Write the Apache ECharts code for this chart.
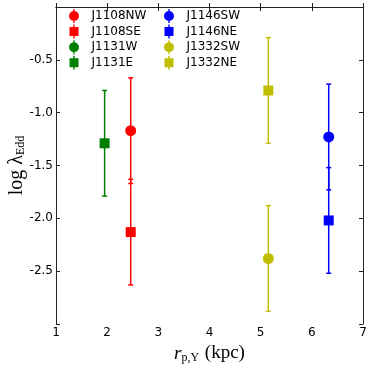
<!DOCTYPE html>
<html>
<head>
<meta charset="utf-8">
<script src="https://cdn.jsdelivr.net/npm/echarts@6/dist/echarts.min.js"></script>
<style>
html,body{margin:0;padding:0;background:#fff;}
#main{width:374px;height:374px;}
</style>
</head>
<body>
<div id="main"></div>
<script>
//source names (legend order)
let names = ['J1108NW','J1108SE','J1131W','J1131E','J1146SW','J1146NE','J1332SW','J1332NE']
//projected separation r_p,Y (kpc), null = not plotted
let xVals = [2.46, 2.46, null, 1.95, 6.33, 6.33, 5.15, 5.15]
//log lambda_Edd
let yVals = [-1.17, -2.13, null, -1.29, -1.23, -2.02, -2.38, -0.79]
//error (symmetric)
let yErr = [0.5, 0.5, 0.5, 0.5, 0.5, 0.5, 0.5, 0.5]
let colors = ['#ff0000','#ff0000','#008000','#008000','#0000ff','#0000ff','#bfbf00','#bfbf00']
let symbols = ['circle','rect','circle','rect','circle','rect','circle','rect']
//y tick labels
let yTicks = [-0.5, -1.0, -1.5, -2.0, -2.5]

let circleIcon = 'path://M5.3,0H6.7V14H5.3Z M1,7A5,5 0 1 1 11,7A5,5 0 1 1 1,7Z'
let rectIcon = 'path://M5.3,0H6.7V14H5.3Z M1.5,2.5H10.5V11.5H1.5Z'

let myChart = echarts.init(document.getElementById('main'))

//error bar data
let errData = []
names.forEach((n, i) => {
    if(xVals[i] !== null){
        errData.push([xVals[i], yVals[i] - yErr[i], yVals[i] + yErr[i], i])
    }
})

let series = [{
    type:'custom',
    silent:true,
    z:1,
    data:errData,
    renderItem(params, api){
        let x = api.value(0)
        let c = colors[api.value(3)]
        let top = api.coord([x, api.value(2)])
        let bot = api.coord([x, api.value(1)])
        let w = 2.5
        let st = {stroke:c, lineWidth:1.5}
        return {type:'group', children:[
            {type:'line', shape:{x1:top[0], y1:top[1], x2:bot[0], y2:bot[1]}, style:st},
            {type:'line', shape:{x1:top[0]-w, y1:top[1], x2:top[0]+w, y2:top[1]}, style:st},
            {type:'line', shape:{x1:bot[0]-w, y1:bot[1], x2:bot[0]+w, y2:bot[1]}, style:st}
        ]}
    }
}]
names.forEach((n, i) => {
    series.push({
        type:'scatter',
        name:n,
        z:2,
        symbol:symbols[i],
        symbolSize:symbols[i] === 'circle' ? 11 : 10,
        itemStyle:{color:colors[i], opacity:1},
        emphasis:{disabled:true},
        data: xVals[i] === null ? [] : [[xVals[i], yVals[i]]]
    })
})

function legendData(list){
    return list.map(n => {
        let i = names.indexOf(n)
        return {name:n, icon: symbols[i] === 'circle' ? circleIcon : rectIcon}
    })
}
let legendBase = {
    orient:'vertical',
    top:9,
    padding:0,
    itemWidth:25,
    itemHeight:14,
    itemGap:1.6,
    selectedMode:false,
    textStyle:{fontFamily:'DejaVu Sans', fontSize:12, color:'#000'}
}

let axisLine = {show:true, lineStyle:{color:'#222', width:1}}
let axisTick = {show:true, inside:true, length:4, lineStyle:{color:'#222'}}

let option = {
    animation:false,
    grid:{left:56, right:11, top:7, bottom:50, outerBoundsMode:'none', containLabel:false},
    legend:[
        Object.assign({left:69, data:legendData(names.slice(0,4))}, legendBase),
        Object.assign({left:164, data:legendData(names.slice(4))}, legendBase)
    ],
    xAxis:[{
        type:'value', min:1, max:7, interval:1,
        axisLine:axisLine, axisTick:axisTick, splitLine:{show:false},
        axisLabel:{margin:3, fontFamily:'DejaVu Sans', fontSize:12, color:'#000'},
        name:'{i|r}{sub|p,Y}{n| (kpc)}',
        nameLocation:'middle',
        nameGap:19,
        nameTextStyle:{
            rich:{
                i:{fontFamily:'Liberation Serif', fontStyle:'italic', fontSize:19, color:'#000'},
                sub:{fontFamily:'Liberation Serif', fontSize:12, color:'#000', padding:[9,1,0,0]},
                n:{fontFamily:'Liberation Serif', fontSize:19, color:'#000'}
            }
        }
    },{
        type:'value', min:1, max:7, interval:1, position:'top',
        axisLine:axisLine, axisTick:axisTick, splitLine:{show:false}, axisLabel:{show:false}
    }],
    yAxis:[{
        type:'value', min:-3, max:0, interval:0.5,
        axisLine:axisLine, axisTick:axisTick, splitLine:{show:false},
        axisLabel:{
            margin:3, fontFamily:'DejaVu Sans', fontSize:12, color:'#000',
            formatter(v){
                return yTicks.indexOf(v) >= 0 ? v.toFixed(1) : ''
            }
        },
        name:'{n|log λ}{sub|Edd}',
        nameLocation:'middle',
        nameRotate:90,
        nameGap:29,
        nameMoveOverlap:false,
        nameTextStyle:{
            rich:{
                n:{fontFamily:'Liberation Serif', fontSize:20, color:'#000'},
                sub:{fontFamily:'Liberation Serif', fontSize:12, color:'#000', padding:[9,0,0,0]}
            }
        }
    },{
        type:'value', min:-3, max:0, interval:0.5, position:'right',
        axisLine:axisLine, axisTick:axisTick, splitLine:{show:false}, axisLabel:{show:false}
    }],
    series:series
}
myChart.setOption(option)
</script>
</body>
</html>
